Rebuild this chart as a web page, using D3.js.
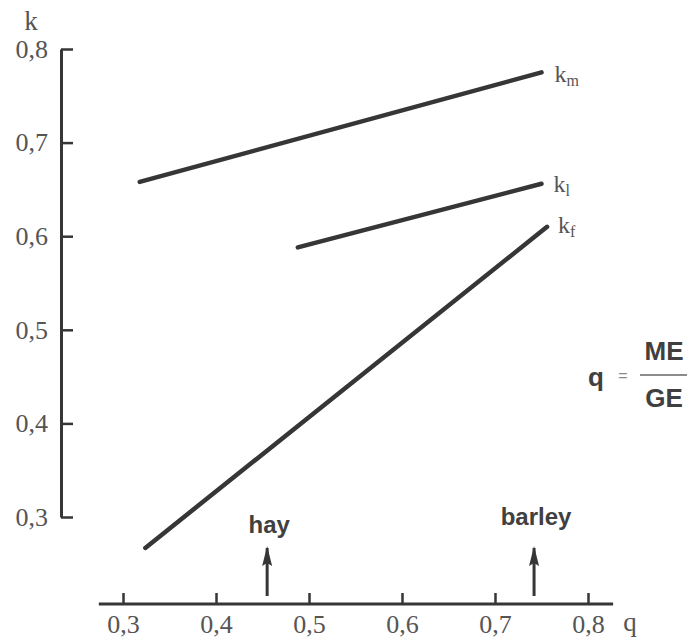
<!DOCTYPE html>
<html>
<head>
<meta charset="utf-8">
<script src="https://cdn.jsdelivr.net/npm/d3@7/dist/d3.min.js"></script>
<style>
  html, body { margin: 0; padding: 0; background: #fff; }
  svg { display: block; }
  .tick text { font-family: "Liberation Serif", "DejaVu Serif", serif; fill: #555; }
</style>
</head>
<body>
<svg id="chart" width="690" height="642"></svg>
<script>
// values
var xTicks = [0.3, 0.4, 0.5, 0.6, 0.7, 0.8];
var yTicks = [0.3, 0.4, 0.5, 0.6, 0.7, 0.8];
var xAxisExtent = [0.274, 0.827];

var seriesNames = ["m", "l", "f"];   // subscripts of k
var km = [[0.318, 0.658], [0.750, 0.775]];
var kl = [[0.488, 0.588], [0.750, 0.656]];
var kf = [[0.324, 0.267], [0.756, 0.610]];

var feeds = ["hay", "barley"];
var feedQ = [0.455, 0.742];

var svg = d3.select("#chart");
var ink = "#363636";

var x = d3.scaleLinear().domain([0.3, 0.8]).range([123, 588]);
var y = d3.scaleLinear().domain([0.3, 0.8]).range([517, 49]);
var axisY = 604;   // baseline of the q axis
var fmt = function(d) { return d3.format(".1f")(d).replace(".", ","); };

// ---- k axis ----
var gy = svg.append("g").attr("transform", "translate(61,0)")
  .call(d3.axisLeft(y).tickValues(yTicks).tickFormat(fmt)
    .tickSizeInner(-12).tickSizeOuter(0).tickPadding(13));
gy.select(".domain").attr("stroke", ink).attr("stroke-width", 3);
gy.selectAll(".tick line").attr("stroke", ink).attr("stroke-width", 2.5);
gy.selectAll(".tick text").attr("font-size", 26).attr("fill", "#555");

svg.append("text")
  .attr("x", 31).attr("y", 30)
  .attr("text-anchor", "middle")
  .attr("font-family", "Liberation Serif, serif")
  .attr("font-size", 27).attr("fill", "#555")
  .text("k");

// ---- q axis ----
var gx = svg.append("g").attr("transform", "translate(0," + axisY + ")")
  .call(d3.axisBottom(x).tickValues(xTicks).tickFormat(fmt)
    .tickSizeInner(-11).tickSizeOuter(0).tickPadding(11));
gx.select(".domain").remove();
gx.selectAll(".tick line").attr("stroke", ink).attr("stroke-width", 2.5);
gx.selectAll(".tick text").attr("font-size", 26).attr("fill", "#555");

svg.append("line")
  .attr("x1", x(xAxisExtent[0])).attr("x2", x(xAxisExtent[1]))
  .attr("y1", axisY).attr("y2", axisY)
  .attr("stroke", ink).attr("stroke-width", 3);

svg.append("text")
  .attr("x", x(xAxisExtent[1]) + 17).attr("y", axisY + 27)
  .attr("text-anchor", "middle")
  .attr("font-family", "Liberation Serif, serif")
  .attr("font-size", 27).attr("fill", "#555")
  .text("q");

// ---- lines ----
var line = d3.line().x(function(d) { return x(d[0]); }).y(function(d) { return y(d[1]); });
var series = [km, kl, kf];
var labelOff = [[13, 10], [12, 8], [11, 6]];

series.forEach(function(s, i) {
  svg.append("path")
    .attr("d", line(s))
    .attr("fill", "none")
    .attr("stroke", ink)
    .attr("stroke-width", 4.5)
    .attr("stroke-linecap", "round");

  var end = s[s.length - 1];
  var t = svg.append("text")
    .attr("x", x(end[0]) + labelOff[i][0])
    .attr("y", y(end[1]) + labelOff[i][1])
    .attr("font-family", "Liberation Serif, serif")
    .attr("font-size", 24).attr("fill", "#555");
  t.append("tspan").text("k");
  t.append("tspan").attr("font-size", 16).attr("dy", 4).text(seriesNames[i]);
});

// ---- feed arrows ----
var defs = svg.append("defs");
defs.append("marker")
  .attr("id", "head")
  .attr("viewBox", "0 0 20 10")
  .attr("refX", 18).attr("refY", 5)
  .attr("markerWidth", 20).attr("markerHeight", 10)
  .attr("markerUnits", "userSpaceOnUse")
  .attr("orient", "auto")
  .append("path").attr("d", "M0,0 L20,5 L0,10 L3,5 Z").attr("fill", ink);

var labelLift = [71, 79];
feeds.forEach(function(f, i) {
  svg.append("line")
    .attr("x1", x(feedQ[i])).attr("x2", x(feedQ[i]))
    .attr("y1", axisY - 8).attr("y2", axisY - 56)
    .attr("stroke", ink).attr("stroke-width", 3)
    .attr("marker-end", "url(#head)");
  svg.append("text")
    .attr("x", x(feedQ[i]) + 2).attr("y", axisY - labelLift[i])
    .attr("text-anchor", "middle")
    .attr("font-family", "Liberation Sans, Arial, sans-serif")
    .attr("font-weight", "bold")
    .attr("font-size", 24).attr("fill", "#404040")
    .text(f);
});

// ---- q = ME / GE ----
var fm = svg.append("g").attr("font-family", "Liberation Sans, Arial, sans-serif")
  .attr("font-weight", "bold").attr("fill", "#404040");
fm.append("text").attr("x", 596).attr("y", 386).attr("text-anchor", "middle")
  .attr("font-size", 26).text("q");
fm.append("text").attr("x", 623).attr("y", 381).attr("text-anchor", "middle")
  .attr("font-size", 16).attr("font-weight", "normal").attr("fill", "#888").text("=");
fm.append("line").attr("x1", 640).attr("x2", 687).attr("y1", 375).attr("y2", 375)
  .attr("stroke", "#666").attr("stroke-width", 1.5);
fm.append("text").attr("x", 664).attr("y", 360).attr("text-anchor", "middle")
  .attr("font-size", 26).text("ME");
fm.append("text").attr("x", 664).attr("y", 407).attr("text-anchor", "middle")
  .attr("font-size", 26).text("GE");
</script>
</body>
</html>
